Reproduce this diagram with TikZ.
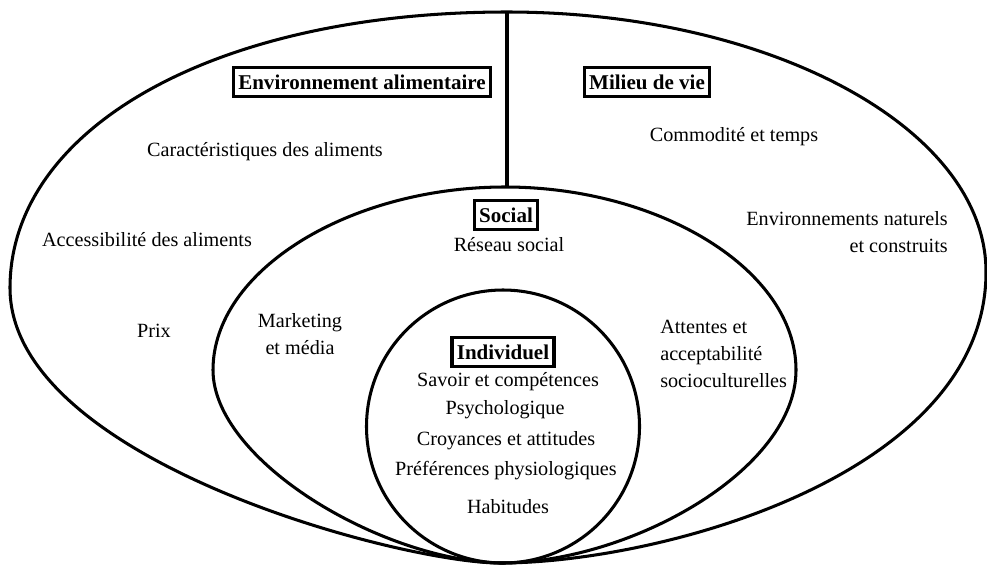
\documentclass[tikz,border=0pt]{standalone}
\usepackage{fontspec}
\setmainfont{Liberation Serif}
\usetikzlibrary{positioning}

\begin{document}
\begin{tikzpicture}[x=0.0254cm, y=-0.0254cm,
		zone/.style={line width=2.2pt},
		titre/.style={draw, line width=2.4pt, inner xsep=3.5pt, inner ysep=5pt, font=\fontsize{15.2}{18}\selectfont\bfseries},
		texte/.style={inner sep=0pt, font=\fontsize{14.6}{19.8}\selectfont}]
		\useasboundingbox (0,0) rectangle (987,565);
		
		% outer zone
		\draw[zone] (500,563) .. controls (400,563) and (10,460) .. (10,288)
		.. controls (10,128) and (215,12) .. (507,12)
		.. controls (770,12) and (986,128) .. (986,272)
		.. controls (986,475) and (660,563) .. (500,563);
		% social zone
		\draw[zone] (500,563) .. controls (380,560) and (213,460) .. (213,370)
		.. controls (213,270) and (350,187) .. (505,187)
		.. controls (660,187) and (796,270) .. (796,370)
		.. controls (796,470) and (630,563) .. (500,563);
		% individual zone
		\draw[zone] (503,426.5) circle [radius=136.5];
		
		\coordinate (haut) at (507,12);
		\coordinate (bas) at (507,187);
		\draw[zone] (haut) -- (bas);
		
		\node[titre] (envalim) at (362,82) {Environnement alimentaire};
		\node[titre] (milieu) at (647,82) {Milieu de vie};
		\node[titre] (social) at (506,215) {Social};
		\node[titre] (indiv) at (503,352) {Individuel};
		
		\node[texte] (caract) at (265,152) {Caractéristiques des aliments};
		\node[texte] (access) at (147,240) {Accessibilité des aliments};
		\node[texte] (prix) at (154,331) {Prix};
		\node[texte] (commod) at (734,137) {Commodité et temps};
		\node[texte, align=right, anchor=east] (envnat) at (948,232) {Environnements naturels\\et construits};
		\node[texte] (reseau) at (509,245) {Réseau social};
		\node[texte, align=center] (market) at (300,334) {Marketing\\et média};
		\node[texte, align=left, anchor=west] (attentes) at (660,354) {Attentes et\\acceptabilité\\socioculturelles};
		
		\node[texte] (savoir) at (508,382) {Savoir et compétences};
		\node[texte] (psycho) at (505,410) {Psychologique};
		\node[texte] (croy) at (506,441) {Croyances et attitudes};
		\node[texte] (pref) at (506,471) {Préférences physiologiques};
		\node[texte] (habit) at (508,507) {Habitudes};
	\end{tikzpicture}
\end{document}
